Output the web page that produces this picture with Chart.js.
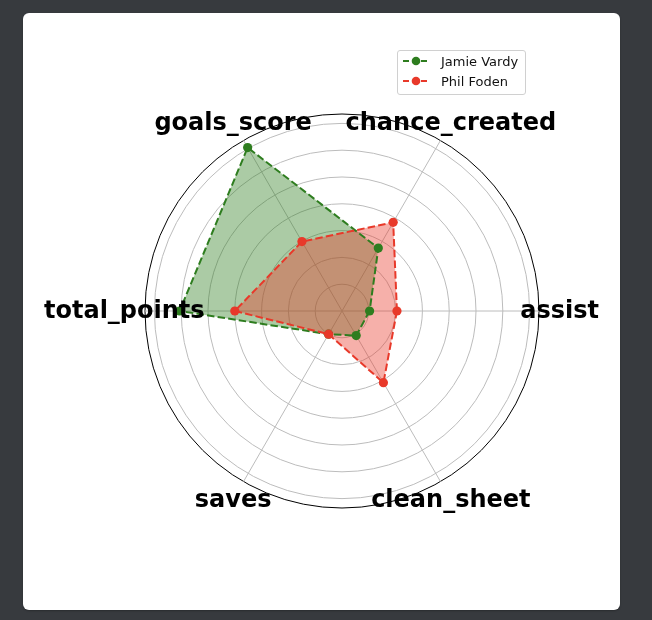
<!DOCTYPE html>
<html>
<head>
<meta charset="utf-8">
<script src="https://cdn.jsdelivr.net/npm/chart.js@4"></script>
<style>
  html, body { margin: 0; padding: 0; }
  body { width: 652px; height: 620px; background: #373a3e; position: relative; overflow: hidden; font-family: "DejaVu Sans", sans-serif; }
  #card { position: absolute; left: 23px; top: 13px; width: 597px; height: 597px; background: #fff; border-radius: 6px; box-shadow: 0 1px 2px rgba(0,0,0,0.25); }
  #wrap { position: absolute; left: 0; top: 0; width: 652px; height: 620px; }
  #legend { position: absolute; left: 397px; top: 50px; width: 127px; height: 43px; border: 1px solid #d0d0d0; border-radius: 3px; background: rgba(255,255,255,0.8); box-sizing: content-box; }
  .row { position: absolute; left: 4px; height: 20px; display: flex; align-items: center; font-size: 13px; color: #111; white-space: nowrap; }
  .row svg { margin-right: 11px; }
</style>
</head>
<body>
<div id="card"></div>
<div id="wrap"><canvas id="c" width="652" height="620"></canvas></div>
<div id="legend"></div>
<script>
// Categories in the reference's counter-clockwise order, starting at the right
const categories = ['assist', 'chance_created', 'goals_score', 'total_points', 'saves', 'clean_sheet'];
const seriesNames = ['Jamie Vardy', 'Phil Foden'];
const vardyValues = [1.03, 2.71, 7.04, 6.06, 1.0, 1.06];
const fodenValues = [2.05, 3.82, 2.99, 4.0, 1.0, 3.09];
const ringTicks = [0, 1, 2, 3, 4, 5, 6, 7];
const axisMax = 7.35;
const lineColors = ['#2e7d1f', '#e8392a'];
const fillColors = ['rgba(46,125,31,0.40)', 'rgba(232,57,42,0.40)'];

// Chart.js goes clockwise, so reverse everything after the first entry
const cw = arr => [arr[0]].concat(arr.slice(1).reverse());
const labels = cw(categories);
const seriesValues = [vardyValues, fodenValues];

// fills underneath, dashed lines with markers on top
const fillSets = seriesNames.map((name, i) => ({
  label: name + ' fill',
  data: cw(seriesValues[i]),
  borderWidth: 0,
  borderColor: 'rgba(0,0,0,0)',
  backgroundColor: fillColors[i],
  pointRadius: 0,
  fill: 'origin',
  order: 20 - i
}));
const lineSets = seriesNames.map((name, i) => ({
  label: name,
  data: cw(seriesValues[i]),
  borderColor: lineColors[i],
  backgroundColor: lineColors[i],
  borderWidth: 2,
  borderDash: [7.5, 3.2],
  pointRadius: 4.6,
  pointBackgroundColor: lineColors[i],
  pointBorderColor: lineColors[i],
  pointBorderWidth: 0,
  fill: false,
  order: 10 - i
}));

const labelPlugin = {
  id: 'centeredLabels',
  afterDraw(chart) {
    const scale = chart.scales.r;
    const ctx = chart.ctx;
    ctx.save();
    ctx.font = 'bold 24px "DejaVu Sans"';
    ctx.fillStyle = '#000';
    ctx.textAlign = 'center';
    ctx.textBaseline = 'middle';
    const dist = scale.drawingArea * 1.105;
    chart.data.labels.forEach((lab, i) => {
      const p = scale.getPointPosition(i, dist);
      ctx.fillText(lab, p.x, p.y + 1);
    });
    ctx.restore();
  }
};

new Chart(document.getElementById('c'), {
  type: 'radar',
  data: { labels, datasets: fillSets.concat(lineSets) },
  options: {
    responsive: false,
    animation: false,
    layout: { padding: { left: 145, right: 112, top: 114, bottom: 111 } },
    plugins: { legend: { display: false }, tooltip: { enabled: false } },
    elements: { line: { tension: 0 } },
    scales: {
      r: {
        min: 0,
        max: axisMax,
        startAngle: 90,
        afterBuildTicks: (scale) => {
          scale.ticks = ringTicks.concat([axisMax]).map(v => ({ value: v }));
        },
        ticks: { display: false },
        pointLabels: { display: false },
        grid: {
          circular: true,
          color: (ctx) => (ctx.tick && ctx.tick.value === axisMax) ? '#000000' : '#bcbcbc',
          lineWidth: 1
        },
        angleLines: { color: '#bcbcbc', lineWidth: 1 }
      }
    }
  },
  plugins: [labelPlugin]
});

// HTML legend built from the series
const legend = document.getElementById('legend');
seriesNames.forEach((name, i) => {
  const row = document.createElement('div');
  row.className = 'row';
  row.style.top = (0 + i * 20) + 'px';
  row.innerHTML = '<svg width="28" height="12"><line x1="1" y1="6" x2="27" y2="6" stroke="' + lineColors[i] +
    '" stroke-width="1.8" stroke-dasharray="6 3"/><circle cx="14" cy="6" r="4.3" fill="' + lineColors[i] + '"/></svg>';
  const span = document.createElement('span');
  span.textContent = name;
  row.appendChild(span);
  legend.appendChild(row);
});
</script>
</body>
</html>
